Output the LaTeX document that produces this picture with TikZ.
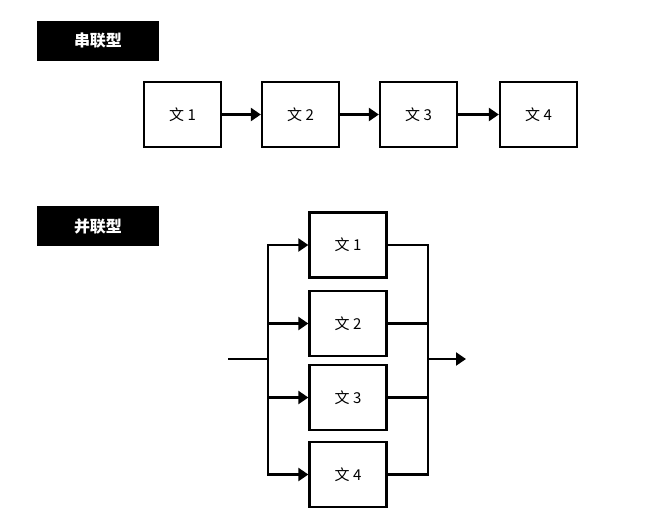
\documentclass[tikz,border=0pt]{standalone}
\usepackage{fontspec}
\setmainfont{Noto Sans CJK SC}
\usetikzlibrary{arrows.meta}
\begin{document}
\begin{tikzpicture}[x=1pt,y=-1pt,
  blk/.style={draw=black,line width=2.3pt,fill=white,minimum width=77pt,minimum height=65pt,inner sep=0pt,font=\fontsize{15}{17}\selectfont},
  tag/.style={fill=black,text=white,minimum width=122pt,minimum height=40pt,inner sep=0pt,font=\fontsize{16}{18}\selectfont\bfseries},
  arr/.style={line width=2.3pt,-{Triangle[length=10pt,width=13pt]}},
  ln/.style={line width=2.3pt}]
\useasboundingbox (0,0) rectangle (646,520);
\node[tag] (t1) at (98,41) {串联型};
\node[tag] (t2) at (98,226) {并联型};
% series
\node[blk] (s1) at (182.5,114.5) {文 1};
\node[blk] (s2) at (300.5,114.5) {文 2};
\node[blk] (s3) at (418.5,114.5) {文 3};
\node[blk] (s4) at (538.5,114.5) {文 4};
\draw[arr] (s1) -- (s2);
\draw[arr] (s2) -- (s3);
\draw[arr] (s3) -- (s4);
% parallel
\node[blk] (p1) at (348,245) {文 1};
\node[blk] (p2) at (348,323.5) {文 2};
\node[blk] (p3) at (348,397.5) {文 3};
\node[blk] (p4) at (348,474.5) {文 4};
\coordinate (in) at (228,359);
\coordinate (lb) at (268,359);
\coordinate (lt) at (268,245);
\coordinate (lbot) at (268,474.5);
\coordinate (rb) at (428,359);
\coordinate (rt) at (428,245);
\coordinate (rbot) at (428,474.5);
\coordinate (out) at (466,359);
\draw[ln] (in) -- (lb);
\draw[ln,line cap=rect] (lt) -- (lbot);
\draw[ln,line cap=rect] (rt) -- (rbot);
\foreach \p in {p1,p2,p3,p4}{
  \draw[arr] (lt |- \p.west) -- (\p.west);
  \draw[ln] (\p.east) -- (rt |- \p.east);
}
\draw[arr] (rb) -- (out);
\end{tikzpicture}
\end{document}
